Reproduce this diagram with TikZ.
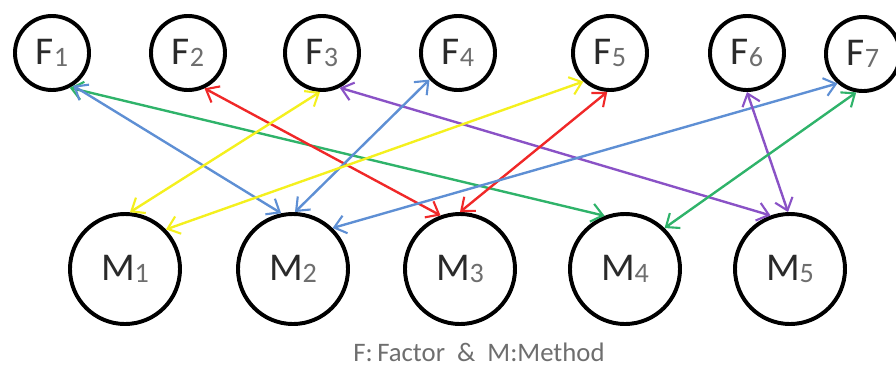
\documentclass[tikz,border=0pt]{standalone}
\usepackage{fontspec}
\setmainfont{Carlito}
\usetikzlibrary{arrows.meta}
\definecolor{cgreen}{HTML}{2FB36A}
\definecolor{cblue}{HTML}{5E8FD4}
\definecolor{cred}{HTML}{F02828}
\definecolor{cyellow}{HTML}{F4F01E}
\definecolor{cpurple}{HTML}{8A52C6}
\definecolor{ctext}{HTML}{2A2A2A}
\definecolor{csub}{HTML}{6E6E6E}
\newcommand{\lbl}[2]{{\color{ctext}#1}{\fontsize{20pt}{20pt}\selectfont\color{csub}\raisebox{-1.5pt}{#2}}}
\begin{document}
\begin{tikzpicture}[x=0.025cm,y=-0.025cm,
  fnode/.style={circle,draw=black,line width=2.8pt,minimum size=1.85cm,inner sep=0pt,font=\fontsize{28pt}{28pt}\selectfont},
  mnode/.style={circle,draw=black,line width=2.8pt,minimum size=2.75cm,inner sep=0pt,font=\fontsize{28pt}{28pt}\selectfont},
  link/.style={line width=1.7pt,{Straight Barb[length=8pt,width=13pt,line width=1.5pt]}-{Straight Barb[length=8pt,width=13pt,line width=1.5pt]}}]
\useasboundingbox (0,0) rectangle (896,370);
\node[fnode] (F1) at (52,53) {\lbl{F}{1}};
\node[fnode] (F2) at (188,53) {\lbl{F}{2}};
\node[fnode] (F3) at (322,53) {\lbl{F}{3}};
\node[fnode] (F4) at (458,53) {\lbl{F}{4}};
\node[fnode] (F5) at (610,53) {\lbl{F}{5}};
\node[fnode] (F6) at (747,53) {\lbl{F}{6}};
\node[fnode] (F7) at (863,54) {\lbl{F}{7}};
\node[mnode] (M1) at (125,269) {\lbl{M}{1}};
\node[mnode] (M2) at (293,269) {\lbl{M}{2}};
\node[mnode] (M3) at (460,269) {\lbl{M}{3}};
\node[mnode] (M4) at (625,269) {\lbl{M}{4}};
\node[mnode] (M5) at (790,269) {\lbl{M}{5}};
\node[inner sep=0pt,font=\fontsize{19pt}{19pt}\selectfont,text=csub] (cap) at (479,352) {F:\,Factor\ \ \&\ \ M:Method};
\draw[link,cgreen] (F1.-63) -- (M4.111);
\draw[link,cblue] (F1.-57) -- (M2.102);
\draw[link,cred] (F2.-65) -- (M3.110);
\draw[link,cyellow] (F3.-93) -- (M1.85);
\draw[link,cpurple] (F3.-63) -- (M5.110);
\draw[link,cblue] (F4.223) -- (M2.88);
\draw[link,cyellow] (F5.227) -- (M1.44);
\draw[link,cred] (F5.-94) -- (M3.90);
\draw[link,cblue] (F7.229) -- (M2.46);
\draw[link,cpurple] (F6.-90) -- (M5.92);
\draw[link,cgreen] (F7.-100) -- (M4.46);
\end{tikzpicture}
\end{document}
